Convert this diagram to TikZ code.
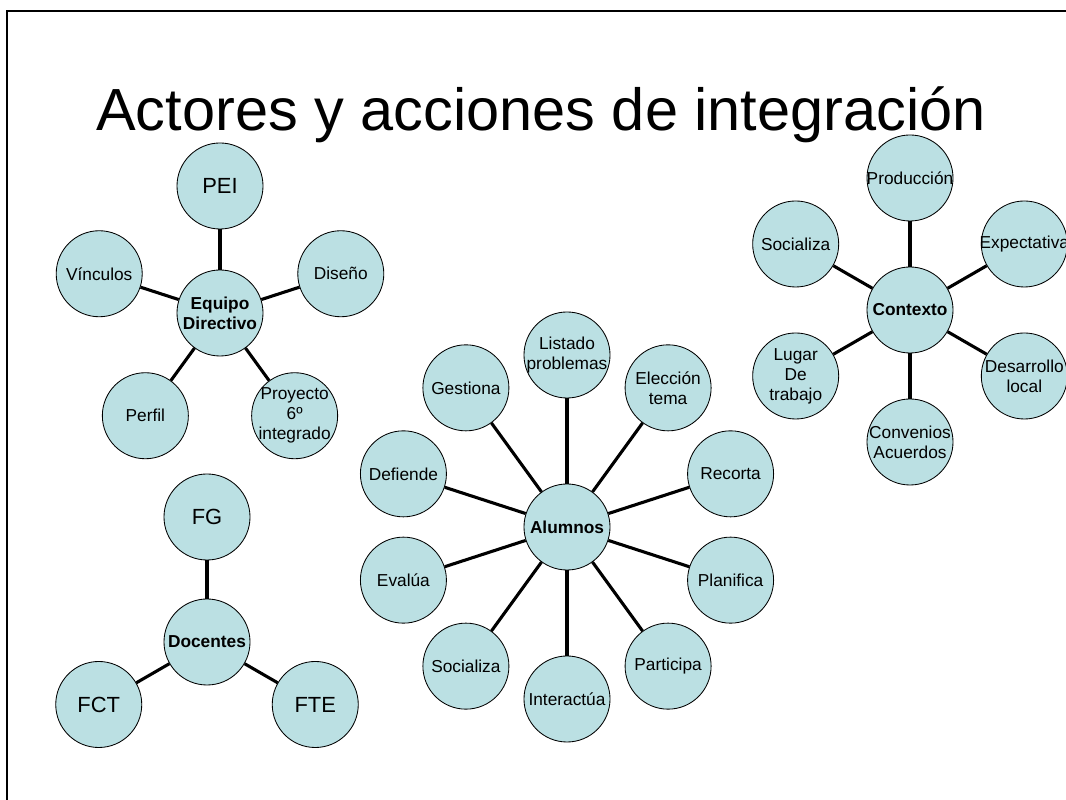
\documentclass[tikz,border=0pt]{standalone}
\usepackage{fontspec}
\setmainfont{Liberation Sans}
\definecolor{bubblefill}{HTML}{BBE0E3}
\tikzset{
  bubble/.style={circle, draw, line width=0.6pt, fill=bubblefill, minimum size=2.15cm, inner sep=0pt},
  txt/.style={align=center, font=\fontsize{12.3}{14.3}\selectfont},
  bigtxt/.style={align=center, font=\fontsize{15.6}{18}\selectfont},
  hubtxt/.style={align=center, font=\fontsize{12.3}{14.3}\selectfont\bfseries},
  spoke/.style={line width=2.2pt}
}
\begin{document}
\begin{tikzpicture}[x=0.025cm, y=0.025cm]
\useasboundingbox (0,0) rectangle (1066,800);
\draw[line width=1.4pt] (7,0) -- (7,789) -- (1066,789);
\node[anchor=base, font=\fontsize{42.3}{50}\selectfont] (title) at (541,669) {Actores y acciones de integración};

\begin{scope}[shift={(220,487)}]
\node[bubble, label={[hubtxt]center:{Equipo\\Directivo}}] (ed) at (0,0) {};
\node[bubble, label={[bigtxt]center:PEI}] (pei) at (90:127) {};
\node[bubble, label={[txt]center:Diseño}] (dis) at (18:127) {};
\node[bubble, label={[txt]center:{Proyecto\\6º\\integrado}}] (pro) at (-54:127) {};
\node[bubble, label={[txt]center:Perfil}] (per) at (-126:127) {};
\node[bubble, label={[txt]center:Vínculos}] (vin) at (162:127) {};
\end{scope}
\foreach \n in {pei,dis,pro,per,vin}
  \draw[spoke] (ed) -- (\n);

\begin{scope}[shift={(910,490)}]
\node[bubble, label={[hubtxt]center:Contexto}] (ctx) at (0,0) {};
\node[bubble, label={[txt]center:Producción}] (prod) at (90:132) {};
\node[bubble, label={[txt]center:Expectativa}] (exp) at (30:132) {};
\node[bubble, label={[txt]center:{Desarrollo\\local}}] (des) at (-30:132) {};
\node[bubble, label={[txt]center:{Convenios\\Acuerdos}}] (conv) at (-90:132) {};
\node[bubble, label={[txt]center:{Lugar\\De\\trabajo}}] (lug) at (-150:132) {};
\node[bubble, label={[txt]center:Socializa}] (soc) at (150:132) {};
\end{scope}
\foreach \n in {prod,exp,des,conv,lug,soc}
  \draw[spoke] (ctx) -- (\n);

\begin{scope}[shift={(567,273)}]
\node[bubble, label={[hubtxt]center:Alumnos}] (alu) at (0,0) {};
\node[bubble, label={[txt]center:{Listado\\problemas}}] (lis) at (90:172) {};
\node[bubble, label={[txt]center:{Elección\\tema}}] (ele) at (54:172) {};
\node[bubble, label={[txt]center:Recorta}] (rec) at (18:172) {};
\node[bubble, label={[txt]center:Planifica}] (pla) at (-18:172) {};
\node[bubble, label={[txt]center:Participa}] (par) at (-54:172) {};
\node[bubble, label={[txt]center:Interactúa}] (int) at (-90:172) {};
\node[bubble, label={[txt]center:Socializa}] (soa) at (-126:172) {};
\node[bubble, label={[txt]center:Evalúa}] (eva) at (-162:172) {};
\node[bubble, label={[txt]center:Defiende}] (def) at (162:172) {};
\node[bubble, label={[txt]center:Gestiona}] (ges) at (126:172) {};
\end{scope}
\foreach \n in {lis,ele,rec,pla,par,int,soa,eva,def,ges}
  \draw[spoke] (alu) -- (\n);

\begin{scope}[shift={(207,158)}]
\node[bubble, label={[hubtxt]center:Docentes}] (doc) at (0,0) {};
\node[bubble, label={[bigtxt]center:FG}] (fg) at (90:125) {};
\node[bubble, label={[bigtxt]center:FTE}] (fte) at (-30:125) {};
\node[bubble, label={[bigtxt]center:FCT}] (fct) at (210:125) {};
\end{scope}
\foreach \n in {fg,fte,fct}
  \draw[spoke] (doc) -- (\n);
\end{tikzpicture}
\end{document}
